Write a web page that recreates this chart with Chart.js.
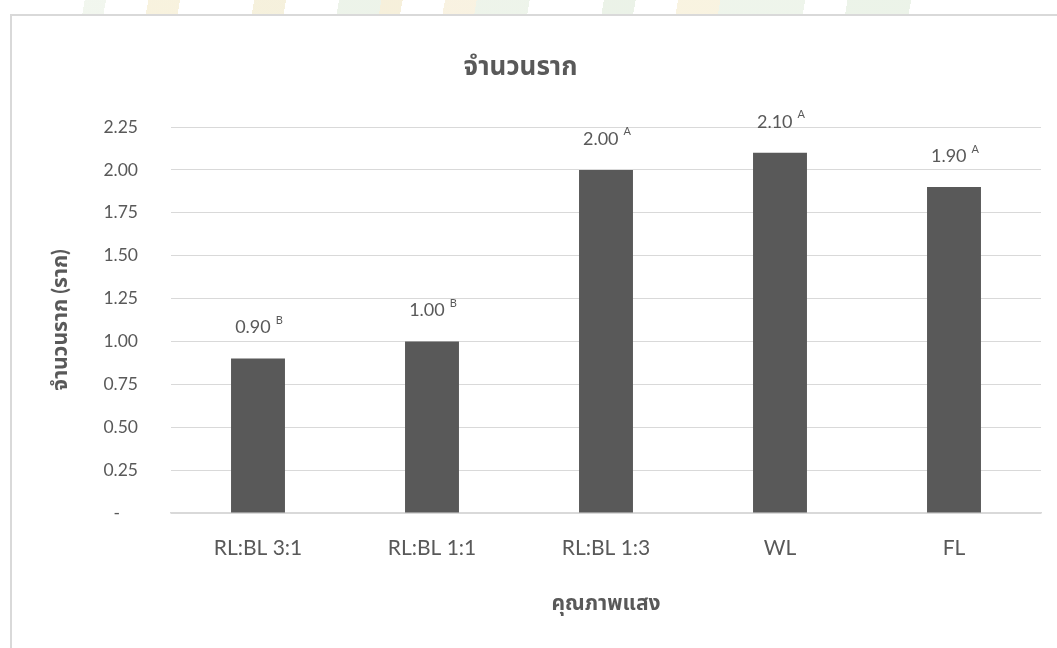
<!DOCTYPE html>
<html>
<head>
<meta charset="utf-8">
<script src="https://cdn.jsdelivr.net/npm/chart.js@4.4.1/dist/chart.umd.min.js"></script>
<style>
  html, body { margin: 0; padding: 0; width: 1057px; height: 648px; overflow: hidden; background: #fff; }
  #wm { position: absolute; left: 0; top: 0; width: 1057px; height: 14px;
        background:
          linear-gradient(100deg, transparent 0 8%, #eef4ea 8% 10%, transparent 10% 14%, #f6efd6 14% 17%, transparent 17% 24%, #f3edd4 24% 27%, transparent 27% 32%, #e8f0e4 32% 36%, #f4ecd2 36% 38%, transparent 38% 42%, #f7efda 42% 45%, #e9f1e5 45% 50%, transparent 50% 57%, #e6efe2 57% 60%, transparent 60% 64%, #f7f0d9 64% 68%, #eaf2e6 68% 76%, transparent 76% 80%, #e7f0e3 80% 86%, transparent 86% 100%);
        opacity: 0.8; }
  #box { position: absolute; left: 10px; top: 14px; width: 1100px; height: 700px;
         border-left: 2px solid #d9d9d9; border-top: 2px solid #d9d9d9; background: #fff; }
  #wrap { position: absolute; left: 0; top: 0; width: 1057px; height: 648px; }
</style>
</head>
<body>
<div id="wm"></div>
<div id="box"></div>
<div id="wrap"><canvas id="c" width="1057" height="648"></canvas></div>
<script>
const categories = ['RL:BL 3:1', 'RL:BL 1:1', 'RL:BL 1:3', 'WL', 'FL'];
const rootCounts = [0.90, 1.00, 2.00, 2.10, 1.90];
const letters = ['B', 'B', 'A', 'A', 'A'];
const yTicks = [0, 0.25, 0.5, 0.75, 1.0, 1.25, 1.5, 1.75, 2.0, 2.25];
const chartTitle = 'จำนวนราก';
const yTitle = 'จำนวนราก (ราก)';
const xTitle = 'คุณภาพแสง';

const FONT = "Lato, 'Noto Sans Thai', 'Noto Sans', 'DejaVu Sans', sans-serif";
const GREY = '#595959';

const labelPlugin = {
  id: 'barLabels',
  afterDatasetsDraw(chart) {
    const ctx = chart.ctx;
    const meta = chart.getDatasetMeta(0);
    ctx.save();
    meta.data.forEach((bar, i) => {
      const num = rootCounts[i].toFixed(2);
      const let_ = letters[i];
      ctx.font = '18px ' + FONT;
      const nw = ctx.measureText(num).width;
      ctx.font = '11px ' + FONT;
      const lw = ctx.measureText(let_).width;
      const gap = 5;
      const total = nw + gap + lw;
      const x0 = bar.x - total / 2 + 1;
      const y = bar.y - 31;
      ctx.fillStyle = GREY;
      ctx.textBaseline = 'middle';
      ctx.textAlign = 'left';
      ctx.font = '18px ' + FONT;
      ctx.fillText(num, x0, y);
      ctx.font = '11px ' + FONT;
      ctx.fillText(let_, x0 + nw + gap, y - 7);
    });
    ctx.restore();
  }
};

new Chart(document.getElementById('c'), {
  type: 'bar',
  data: {
    labels: categories,
    datasets: [{
      data: rootCounts,
      backgroundColor: GREY,
      borderWidth: 0,
      categoryPercentage: 1.0,
      barPercentage: 0.31
    }]
  },
  options: {
    responsive: false,
    animation: false,
    devicePixelRatio: 1,
    layout: { padding: { left: 0, right: 16, top: 0, bottom: 0 } },
    plugins: {
      legend: { display: false },
      tooltip: { enabled: false },
      title: {
        display: true,
        text: chartTitle,
        color: GREY,
        font: { family: FONT, size: 26, weight: 'bold', lineHeight: 1.2 },
        padding: { top: 51.4, bottom: 44.4 }
      }
    },
    scales: {
      x: {
        grid: { display: false, drawTicks: false },
        border: { display: true, color: '#d9d9d9', width: 1.5 },
        ticks: { color: GREY, font: { family: FONT, size: 21 }, padding: 22.4, maxRotation: 0 },
        title: {
          display: true, text: xTitle, color: GREY,
          font: { family: FONT, size: 21, weight: 'bold', lineHeight: 1.2 },
          padding: { top: 0, bottom: 32.4 }
        },
        afterFit(scale) { scale.height = 135; }
      },
      y: {
        min: 0, max: 2.25,
        afterBuildTicks(scale) { scale.ticks = yTicks.map(v => ({ value: v })); },
        grid: { color: '#d9d9d9', lineWidth: 1, drawTicks: false },
        border: { display: false },
        ticks: {
          color: GREY, font: { family: FONT, size: 17.5 }, padding: 33,
          callback: (v) => v === 0 ? '-    ' : Number(v).toFixed(2)
        },
        title: {
          display: true, text: yTitle, color: GREY,
          font: { family: FONT, size: 21, weight: 'bold', lineHeight: 1.2 },
          padding: { top: 47.4, bottom: 0 }
        },
        afterFit(scale) { scale.width = 171; }
      }
    }
  },
  plugins: [labelPlugin]
});
</script>
</body>
</html>
